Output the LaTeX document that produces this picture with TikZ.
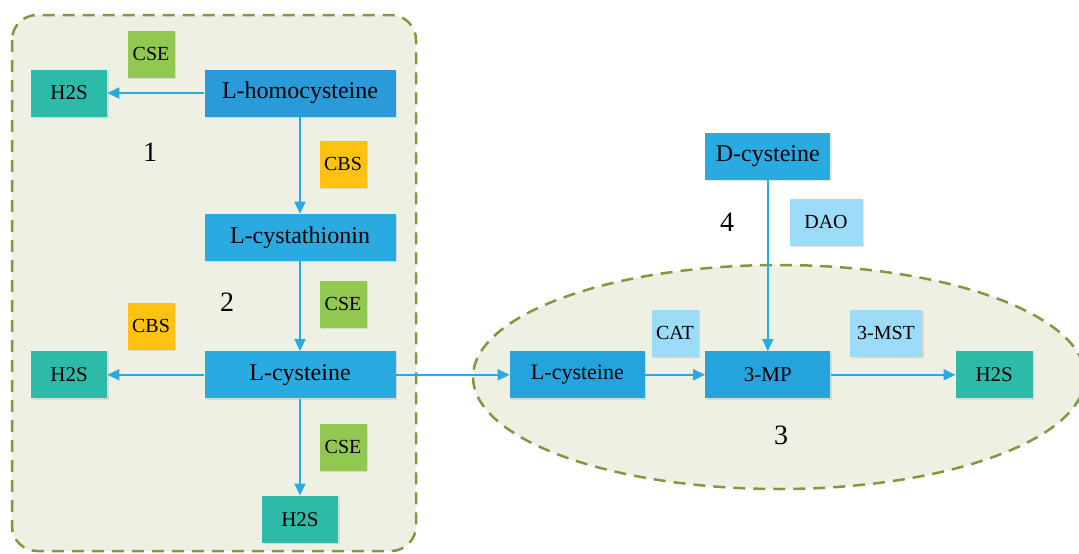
\documentclass[tikz,border=0pt]{standalone}
\usepackage{fontspec}
\setmainfont{Liberation Serif}
\usetikzlibrary{positioning,arrows.meta,shadows}
\definecolor{flowblue}{HTML}{29ABE2}
\definecolor{subblue}{HTML}{29ABE2}
\definecolor{homoblue}{HTML}{2A9AD8}
\definecolor{deepblue}{HTML}{25A3DD}
\definecolor{hsteal}{HTML}{2EBAA8}
\definecolor{csegreen}{HTML}{92C850}
\definecolor{cbsorange}{HTML}{FFC112}
\definecolor{enzlight}{HTML}{9DDCF8}
\definecolor{zonefill}{HTML}{EFF0E4}
\definecolor{zoneline}{HTML}{7D9A3E}

\begin{document}
\begin{tikzpicture}[x=1pt, y=-1pt, node distance=90pt,
    >={Triangle[length=12pt,width=11pt]},
    sub/.style={rectangle, inner sep=0pt, minimum height=47pt, fill=subblue,
      font=\fontsize{24}{26}\selectfont,
      drop shadow={shadow xshift=1.5pt, shadow yshift=-1.5pt, opacity=.2}},
    prod/.style={rectangle, inner sep=0pt, minimum width=76pt, minimum height=47pt, fill=hsteal,
      font=\fontsize{21}{23}\selectfont,
      drop shadow={shadow xshift=1.5pt, shadow yshift=-1.5pt, opacity=.2}},
    enz/.style={rectangle, inner sep=0pt, minimum width=47pt, minimum height=47pt,
      font=\fontsize{20}{22}\selectfont,
      drop shadow={shadow xshift=1.5pt, shadow yshift=-1.5pt, opacity=.2}},
    num/.style={font=\fontsize{28}{30}\selectfont},
    flow/.style={->, draw=flowblue, fill=flowblue, line width=1.8pt},
    zone/.style={draw=zoneline, fill=zonefill, line width=2.5pt, dash pattern=on 12pt off 8pt}]
    \useasboundingbox (0,0) rectangle (1079,554);
    % Zones
    \draw [zone, rounded corners=25pt] (12,15) rectangle (416,551);
    \draw [zone] (779,377) ellipse [x radius=306, y radius=112];
    % Nodes
    \node [sub, fill=homoblue, minimum width=191pt] (homo) at (300,93) {L-homocysteine};
    \node [sub, minimum width=191pt, below=97pt of homo] (cysta) {L-cystathionin};
    \node [sub, minimum width=191pt, below=90pt of cysta] (lcys) {L-cysteine};
    \node [prod, left=97pt of homo] (hsA) {H2S};
    \node [prod, left=97pt of lcys] (hsB) {H2S};
    \node [prod, below=97pt of lcys] (hsC) {H2S};

    \node [sub, fill=deepblue, minimum width=135pt, right=114pt of lcys, font=\fontsize{22}{24}\selectfont] (lcysR) {L-cysteine};
    \node [sub, fill=deepblue, minimum width=125pt, right=60pt of lcysR, font=\fontsize{21}{23}\selectfont] (mp) {3-MP};
    \node [prod, minimum width=77pt, right=125pt of mp] (hsD) {H2S};
    \node [sub, minimum width=125pt, above=171pt of mp] (dcys) {D-cysteine};
    % Enzymes
    \node [enz, fill=csegreen] (cseA) at (151,54) {CSE};
    \node [enz, fill=cbsorange] (cbsA) at (343,164) {CBS};
    \node [enz, fill=csegreen] (cseB) at (343,304) {CSE};
    \node [enz, fill=cbsorange] (cbsB) at (151,326) {CBS};
    \node [enz, fill=csegreen] (cseC) at (343,447) {CSE};
    \node [enz, fill=enzlight, minimum width=73pt] (dao) at (826,222) {DAO};
    \node [enz, fill=enzlight] (cat) at (675,333) {CAT};
    \node [enz, fill=enzlight, minimum width=72pt] (mst) at (886,333) {3-MST};
    % Numbers
    \node [num] (n1) at (150,152) {1};
    \node [num] (n2) at (227,302) {2};
    \node [num] (n3) at (781,435) {3};
    \node [num] (n4) at (727,222) {4};
    % Arrows
    \draw [flow] (homo) -- (hsA);
    \draw [flow] (homo) -- (cysta);
    \draw [flow] (cysta) -- (lcys);
    \draw [flow] (lcys) -- (hsB);
    \draw [flow] (lcys) -- (hsC);
    \draw [flow] (lcys) -- (lcysR);
    \draw [flow] (lcysR) -- (mp);
    \draw [flow] (dcys) -- (mp);
    \draw [flow] (mp) -- (hsD);
\end{tikzpicture}
\end{document}
